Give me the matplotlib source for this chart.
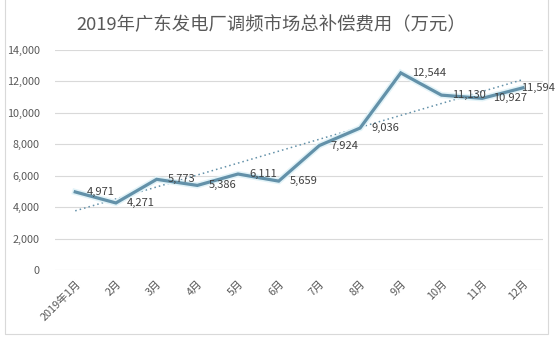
import numpy as np
from matplotlib import pyplot as plt
from matplotlib.patches import Rectangle

plt.rcParams['font.family'] = ['Noto Sans CJK SC', 'DejaVu Sans']

months = ['2019年1月', '2月', '3月', '4月', '5月', '6月',
          '7月', '8月', '9月', '10月', '11月', '12月']
costs = [4971, 4271, 5773, 5386, 6111, 5659, 7924, 9036, 12544, 11130, 10927, 11594]
y_ticks = [0, 2000, 4000, 6000, 8000, 10000, 12000, 14000]

title = '2019年广东发电厂调频市场总补偿费用（万元）'
line_color = '#6391a9'
text_color = '#595959'


def main():
    x = np.arange(len(months))
    y = np.array(costs)

    fig = plt.figure(figsize=(5.6, 3.38), dpi=100)
    ax = fig.add_axes([0.098, 0.201, 0.872, 0.651])

    # light frame round the chart area
    fig.patches.append(Rectangle((0.009, 0.012), 0.970, 1.2, transform=fig.transFigure,
                                 fill=False, edgecolor='#d9d9d9', linewidth=0.8))

    ax.grid(axis='y', color='#d9d9d9', linewidth=0.8)
    ax.set_axisbelow(True)

    # linear trend line
    k, b = np.polyfit(x, y, 1)
    ax.plot(x, k * x + b, color=line_color, linestyle=(0, (1, 2)), linewidth=1.1, zorder=2)

    ax.plot(x, y, color='#e2f3f8', linewidth=4.5, solid_joinstyle='miter', zorder=3)
    ax.plot(x, y, color=line_color, linewidth=2.3, solid_joinstyle='miter', zorder=4)

    for i, v in enumerate(costs):
        # last label is pulled back so it stays inside the figure
        dx = -1.5 if i == len(costs) - 1 else 8
        ax.annotate(f'{v:,}', (x[i], v), xytext=(dx, 0), textcoords='offset points',
                    ha='left', va='center', fontsize=8, color='#404040', zorder=5)

    ax.set_xlim(-0.5, len(months) - 0.5)
    ax.set_ylim(0, 14000)
    ax.set_yticks(y_ticks)
    ax.set_yticklabels([f'{t:,}' for t in y_ticks])
    ax.set_xticks(x)
    ax.set_xticklabels(months, rotation=45, ha='right', rotation_mode='anchor')
    ax.tick_params(length=0, labelsize=7.8, colors=text_color)
    ax.tick_params(axis='y', pad=11)
    ax.tick_params(axis='x', pad=6)
    for s in ax.spines.values():
        s.set_visible(False)

    fig.text(0.485, 0.925, title, ha='center', va='center', fontsize=13.2, color=text_color)

    fig.savefig('out.png', dpi=100, facecolor='white')


if __name__ == '__main__':
    main()
